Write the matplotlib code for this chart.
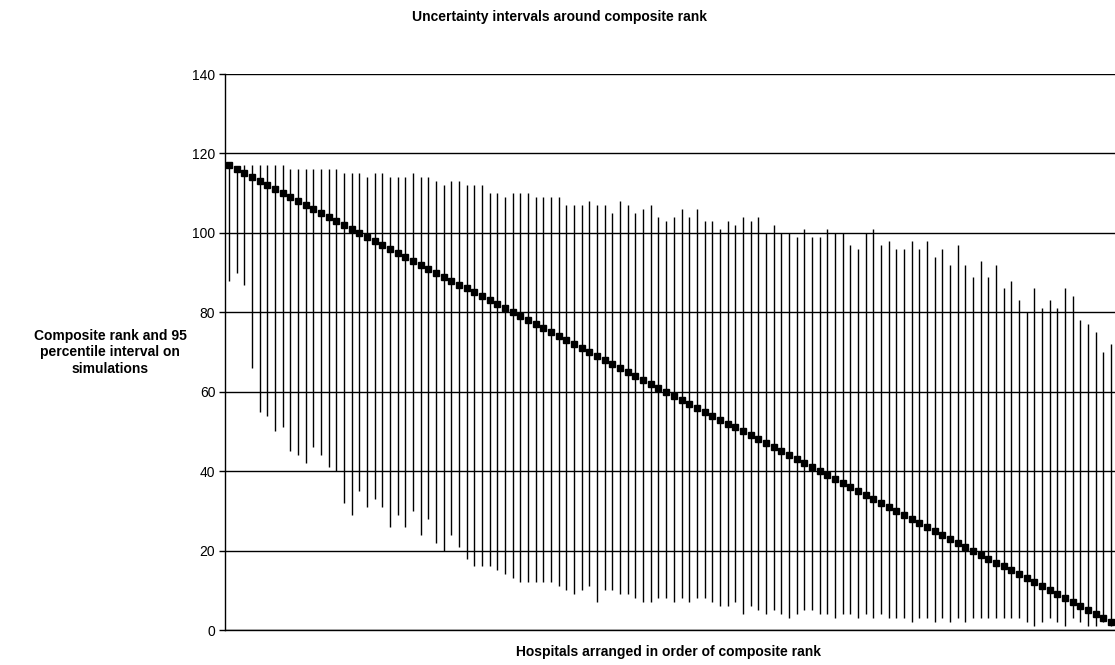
import numpy as np
import matplotlib
matplotlib.use('Agg')
import matplotlib.pyplot as plt

plt.rcParams['font.family'] = ['Liberation Sans', 'DejaVu Sans']

#composite rank of each hospital (best to worst)
rank = [117, 116, 115, 114, 113, 112, 111, 110, 109, 108, 107, 106, 105, 104, 103, 102, 101, 100, 99, 98,
        97, 96, 95, 94, 93, 92, 91, 90, 89, 88, 87, 86, 85, 84, 83, 82, 81, 80, 79, 78,
        77, 76, 75, 74, 73, 72, 71, 70, 69, 68, 67, 66, 65, 64, 63, 62, 61, 60, 59, 58,
        57, 56, 55, 54, 53, 52, 51, 50, 49, 48, 47, 46, 45, 44, 43, 42, 41, 40, 39, 38,
        37, 36, 35, 34, 33, 32, 31, 30, 29, 28, 27, 26, 25, 24, 23, 22, 21, 20, 19, 18,
        17, 16, 15, 14, 13, 12, 11, 10, 9, 8, 7, 6, 5, 4, 3, 2]

#upper end of 95 percentile interval
upper = [117, 116, 117, 117, 117, 117, 117, 117, 116, 116, 116, 116, 116, 116, 116, 115, 115, 115, 114, 115,
         115, 114, 114, 114, 115, 114, 114, 113, 112,
         113, 113, 112, 112, 112, 110, 110, 109, 110, 110, 110, 109, 109, 109, 109, 107, 107, 107, 108, 107,
         107, 105, 108, 107, 105, 106, 107, 104, 103,
         104, 106, 104, 106, 103, 103, 101, 103, 102, 104, 103, 104, 100, 102, 100, 100, 99, 101, 99, 99,
         101, 100, 100, 97, 96, 100, 101, 97, 98,
         96, 96, 98, 96, 98, 94, 96, 92, 97, 92, 89, 93, 89, 92, 86, 88, 83, 80, 86, 81,
         83, 81, 86, 84, 78, 77, 75, 70, 72]

#lower end of 95 percentile interval
lower = [88, 90, 87, 66, 55, 54, 50, 51, 45, 44, 42, 46, 44, 41, 40, 32, 29, 35, 31, 33,
         31, 26, 29, 26, 30, 24, 28, 22, 20,
         24, 21, 18, 16, 16, 16, 15, 14, 13, 12, 12, 12, 12, 12, 11, 10, 9, 10, 11, 7,
         10, 10, 9, 9, 8, 7, 7, 8, 8,
         7, 8, 7, 8, 8, 7, 6, 6, 7, 4, 6, 5, 4, 5, 4, 3, 4, 5, 5, 4,
         4, 3, 4, 4, 3, 4, 3, 4, 3,
         3, 3, 2, 3, 3, 2, 3, 2, 3, 2, 3, 3, 3, 3, 3, 3, 3, 2, 1, 2,
         3, 2, 1, 3, 2, 1, 1, 2, 1]

hospitals = np.arange(len(rank))

fig = plt.figure(figsize=(11.15, 6.65), dpi=100)
ax = fig.add_axes([0.2018, 0.0526, 0.7982, 0.8361])

#interval lines then rank markers on top
ax.vlines(hospitals, lower, upper, color='black', linewidth=1.0, zorder=2)
ax.plot(hospitals, rank, linestyle='none', marker='s', markersize=4.6,
        color='black', zorder=3)

ax.set_xlim(-0.5, len(rank) - 0.5)
ax.set_ylim(0, 140)
ax.set_yticks(np.arange(0, 141, 20))
ax.set_xticks([])
ax.yaxis.grid(True, color='black', linewidth=1.0)
ax.set_axisbelow(True)
ax.tick_params(axis='y', direction='out', length=4, width=1, labelsize=10, pad=3)

for s in ['top', 'right']:
    ax.spines[s].set_visible(False)
ax.spines['left'].set_linewidth(1.0)
ax.spines['bottom'].set_linewidth(1.0)

fig.text(0.502, 0.975, 'Uncertainty intervals around composite rank',
         ha='center', va='center', fontsize=10, fontweight='bold')
fig.text(0.099, 0.47, 'Composite rank and 95\npercentile interval on\nsimulations',
         ha='center', va='center', fontsize=10, fontweight='bold', linespacing=1.2)
fig.text(0.6, 0.019, 'Hospitals arranged in order of composite rank',
         ha='center', va='center', fontsize=10, fontweight='bold')

plt.savefig('out.png', dpi=100)
